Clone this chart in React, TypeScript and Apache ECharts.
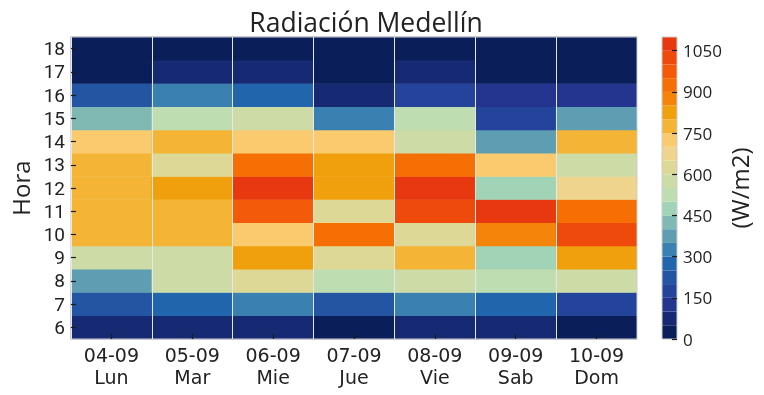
import React, { useEffect, useRef } from "react";
import * as echarts from "echarts";

const days = ["04-09", "05-09", "06-09", "07-09", "08-09", "09-09", "10-09"];
const weekdays = ["Lun", "Mar", "Mie", "Jue", "Vie", "Sab", "Dom"];
const hours = ["6", "7", "8", "9", "10", "11", "12", "13", "14", "15", "16", "17", "18"];

// radiation values (W/m2), hour 6 -> 18
const lun = [75, 225, 375, 575, 775, 775, 775, 775, 725, 425, 225, 25, 25];
const mar = [75, 275, 575, 575, 775, 775, 825, 625, 775, 525, 325, 75, 25];
const mie = [75, 325, 625, 825, 725, 975, 1075, 925, 725, 575, 275, 75, 25];
const jue = [25, 225, 525, 625, 925, 625, 825, 825, 725, 325, 75, 25, 25];
const vie = [75, 325, 575, 775, 625, 1025, 1075, 925, 575, 525, 175, 75, 25];
const sab = [75, 275, 525, 475, 875, 1075, 475, 725, 375, 175, 125, 25, 25];
const dom = [25, 175, 575, 825, 1025, 925, 675, 575, 775, 375, 125, 25, 25];
const byDay = [lun, mar, mie, jue, vie, sab, dom];

const binWidth = 50;
const binColors = [
  "#0A1E5A", "#162A74", "#24358F", "#24449B", "#2355A2", "#2166AC",
  "#3A80B0", "#5E9DB2", "#80B8B3", "#A1D3B6", "#BEDEB1", "#CDDBA6",
  "#DDD896", "#EFD48E", "#FACB6E", "#F4B536", "#F0A00C", "#F4840A",
  "#F66F05", "#F35B0A", "#EE4A0C", "#E8380F",
];
const cbTicks = [0, 150, 300, 450, 600, 750, 900, 1050];

export default function App() {
  const ref = useRef<HTMLDivElement>(null);
  useEffect(() => {
    if (!ref.current) return;
    const chart = echarts.init(ref.current, undefined, { renderer: "svg" });
    const heatData: number[][] = [];
    byDay.forEach((vals, xi) => vals.forEach((v, yi) => heatData.push([xi, yi, v])));
    const cbMax = binColors.length * binWidth;
    const ink = "#222";
    const tickInk = "#1a1a1a";
    const sans = "'Open Sans', 'Noto Sans', sans-serif";
    const cbSeries = binColors.map((c) => ({
      type: "bar",
      xAxisIndex: 1,
      yAxisIndex: 1,
      stack: "cb",
      barWidth: "100%",
      data: [binWidth],
      itemStyle: { color: c },
      silent: true,
      z: 1,
    }));
    chart.setOption({
      animation: false,
      title: {
        text: "Radiación Medellín",
        left: 361,
        top: 3,
        textAlign: "center",
        textStyle: { fontFamily: sans, fontSize: 26.5, fontWeight: "normal", color: ink },
      },
      grid: [
        { left: 71, top: 37, width: 566, height: 302, show: true, borderColor: "#cccccc", borderWidth: 1, backgroundColor: "transparent", z: 10 },
        { left: 662, top: 37, width: 15, height: 302, show: true, borderColor: "#cccccc", borderWidth: 1, backgroundColor: "transparent", z: 10 },
      ],
      xAxis: [
        {
          type: "category",
          gridIndex: 0,
          data: days,
          z: 20,
          axisLine: { show: false },
          axisTick: { show: true, inside: true, length: 5, alignWithLabel: true, interval: 0, lineStyle: { color: tickInk, width: 1.2 } },
          splitLine: { show: true, interval: 0, lineStyle: { color: "#e6e6e6", width: 1 } },
          axisLabel: {
            margin: 5,
            interval: 0,
            fontFamily: "'DejaVu Sans', sans-serif",
            fontSize: 19,
            lineHeight: 22,
            color: ink,
            formatter: (v: string) => v + "\n" + weekdays[days.indexOf(v)],
          },
        },
        { type: "category", gridIndex: 1, data: [""], show: false },
      ],
      yAxis: [
        {
          type: "category",
          gridIndex: 0,
          data: hours,
          z: 20,
          name: "Hora",
          nameLocation: "middle",
          nameGap: 39,
          nameRotate: 90,
          nameTextStyle: { fontFamily: sans, fontSize: 24, color: ink },
          axisLine: { show: false },
          axisTick: { show: true, inside: true, length: 5, alignWithLabel: true, interval: 0, lineStyle: { color: tickInk, width: 1.2 } },
          axisLabel: { margin: 6, interval: 0, fontFamily: "Roboto, sans-serif", fontSize: 19, lineHeight: 20, color: ink },
        },
        {
          type: "value",
          gridIndex: 1,
          position: "right",
          min: 0,
          max: cbMax,
          interval: 150,
          z: 20,
          name: "(W/m2)",
          nameLocation: "middle",
          nameGap: 50,
          nameRotate: 90,
          nameTextStyle: { fontFamily: sans, fontSize: 24, color: ink },
          axisLine: { show: false },
          splitLine: { show: false },
          axisTick: { show: true, inside: true, length: 5, lineStyle: { color: tickInk, width: 1.2 }, customValues: cbTicks },
          axisLabel: {
            margin: 6,
            fontFamily: sans,
            fontSize: 17,
            lineHeight: 18,
            color: ink,
            customValues: cbTicks,
            formatter: (v: number) => String(v),
          },
        },
      ],
      visualMap: {
        type: "piecewise",
        show: false,
        seriesIndex: 0,
        dimension: 2,
        pieces: binColors.map((c, i) => ({ min: i * binWidth, max: (i + 1) * binWidth, color: c })),
      },
      series: [
        {
          type: "heatmap",
          xAxisIndex: 0,
          yAxisIndex: 0,
          data: heatData,
          z: 1,
          itemStyle: { borderWidth: 0 },
        },
        ...cbSeries,
      ],
    });
    return () => chart.dispose();
  }, []);
  return <div ref={ref} style={{ position: "fixed", left: 0, top: 0, width: 764, height: 395 }} />;
}
